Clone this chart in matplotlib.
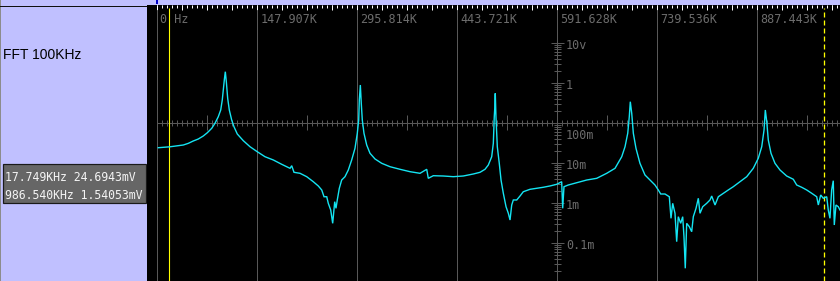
import numpy as np
import matplotlib
matplotlib.use("Agg")
import matplotlib.pyplot as plt
from matplotlib.patches import Rectangle

# ------------------------------------------------------------------ data
title = "FFT 100KHz"
grid_step_khz = 147.907
grid_labels = ["0 Hz", "147.907K", "295.814K", "443.721K",
               "591.628K", "739.536K", "887.443K"]
level_ticks_mv = [10000, 1000, 100, 10, 1, 0.1]
level_labels = ["10v", "1", "100m", "10m", "1m", "0.1m"]
cursor_khz = [17.749, 986.540]
cursor_mv = [24.6943, 1.54053]

freq_khz = [
    1.5, 18.8, 38.5, 45.9, 53.2, 60.6, 68.0, 74.0, 80.5, 85.3,
    90.2, 93.8, 96.1, 97.6, 99.1, 100.6, 102.1, 104.1, 106.5, 110.0,
    113.4, 118.3, 127.2, 137.1, 147.9, 159.3, 171.6, 184.0, 196.3, 198.8,
    202.2, 211.1, 221.0, 230.7, 238.1, 243.2, 246.6,
    250.6, 252.9, 256.5, 259.4, 262.4, 264.3, 266.2, 269.2, 272.7, 277.6,
    282.5, 287.5, 292.4, 295.8, 297.9, 298.8, 300.3, 301.7, 303.2, 305.7,
    309.7, 314.6, 322.0, 331.9, 344.2, 359.0, 373.8, 388.6, 398.5, 400.8,
    408.2, 423.0, 437.8, 452.6, 467.4, 477.3, 484.7, 489.6, 494.6, 497.0,
    498.4,
    499.0, 499.9, 500.9, 502.9, 505.8, 508.4, 511.8, 515.8, 519.2, 521.7,
    524.2, 526.6, 531.6, 536.5, 541.3, 551.2, 561.2, 570.9, 580.8, 590.7,
    598.1, 599.6, 601.5, 607.9, 620.3, 635.1, 649.9, 664.7, 677.0, 686.9,
    691.8, 695.8, 698.1, 699.6, 701.7, 704.1, 708.0, 713.9, 721.3, 728.7,
    736.1, 741.0, 744.6, 750.9,
    757.3, 759.8, 762.3, 765.7, 768.2, 770.6, 774.1, 777.1, 779.0, 780.9,
    783.0, 786.9, 790.4, 792.8, 796.8, 800.2, 802.7, 806.7, 812.6, 817.5,
    820.0, 824.9, 829.8, 837.2, 844.5, 851.9, 861.8, 871.8, 881.5, 888.9,
    894.0, 897.4, 899.3, 901.4, 903.7, 907.7, 913.6, 921.0, 930.9, 940.7,
    945.7, 953.1, 960.5, 967.9, 975.3, 977.7, 981.2, 985.0, 990.1, 992.4,
    994.9, 997.4, 999.8, 1001.3, 1003.8, 1007.2, 1009.7,
]
level_mv = [
    23.7, 25.0, 27.7, 30.5, 34.9, 39.1, 46.5, 56.2, 72.4, 96.6,
    141, 208, 369, 657, 1168, 1884, 1059, 407, 208, 117,
    79.4, 52.2, 35.5, 25.1, 18.8, 14.1, 11.7, 9.12, 7.24, 8.41,
    5.75, 5.43, 4.47, 3.35, 2.62, 2.08, 1.41,
    1.41, 0.966, 0.657, 0.305, 1.06, 0.724, 1.17, 2.29, 3.69, 4.47,
    6.57, 11.7, 22.9, 54.3, 117, 369, 876, 305, 117, 54.3,
    27.7, 17.2, 12.4, 9.66, 7.94, 6.84, 5.96, 5.43, 6.84, 4.07,
    4.73, 4.65, 4.47, 4.65, 5.22, 5.75, 6.84, 8.76, 14.1, 30.5,
    141,
    208, 543, 141, 25.1, 9.66, 3.69, 1.72, 0.794, 0.543, 0.369,
    0.876, 1.17, 1.17, 1.47, 1.88, 2.16, 2.29, 2.43, 2.62, 2.88,
    3.35, 0.724, 2.51, 2.77, 3.16, 3.69, 4.07, 5.43, 7.24, 14.1,
    25.1, 54.3, 141, 335, 172, 54.3, 22.9, 9.66, 4.93, 3.69,
    2.77, 2.08, 1.65, 1.65,
    1.41, 0.407, 0.966, 0.543, 0.106, 0.447, 0.305, 0.447, 0.141, 0.0229,
    0.305, 0.251, 0.188, 0.447, 0.724, 1.29, 0.543, 0.794, 0.966, 1.17,
    1.47, 0.876, 1.41, 1.72, 2.08, 2.51, 3.35, 4.47, 7.24, 12.9,
    25.1, 65.7, 208, 106, 36.9, 17.2, 9.66, 6.57, 4.65, 3.85,
    2.77, 2.43, 2.08, 1.72, 1.41, 0.876, 1.56, 1.29, 1.41, 0.657,
    0.407, 2.08, 3.55, 0.277, 0.876, 0.794, 0.657,
]

# ------------------------------------------------------------------ layout / style
W, H = 840, 281
PANEL_W = 147          # width of the lavender side panel (px)
TOP = 5                # top strip height (px)
ZERO_PX = 157.3        # 0 Hz position (px)
GRID_PX = 100          # px per grid division
DEC_PX = 40            # px per decade
CENTER_Y = 122.7       # px row of the 100 mV line
LAV = "#C0C0FF"
GRID = "#585858"
LABEL = "#6c6c6c"
CYAN = "#14E4F2"
YEL = "#FFFF00"
MONO = "DejaVu Sans Mono"
PX = 72 / 100          # one pixel in points

plt.rcParams["lines.scale_dashes"] = False
khz_per_px = grid_step_khz / GRID_PX

fig = plt.figure(figsize=(W / 100, H / 100), dpi=100)
fig.patch.set_facecolor(LAV)

# overlay for the side panel (pixel coordinates)
ov = fig.add_axes([0, 0, 1, 1])
ov.set_xlim(0, W)
ov.set_ylim(H, 0)
ov.axis("off")
ov.add_patch(Rectangle((0, 0), 1, H, color="#8c8c8c", lw=0))
ov.plot([0, PANEL_W], [TOP + 0.5, TOP + 0.5], color="#101010", lw=PX)
ov.add_patch(Rectangle((ZERO_PX - 1.5, 0), 2, 3.5, color="#0000C8", lw=0))
ov.text(3.3, 59.3, title, fontsize=10, family=["Liberation Sans", "DejaVu Sans"],
        va="baseline", ha="left", color="black")
ov.add_patch(Rectangle((2.5, 163.5), 143.5, 39, facecolor="#666666",
                       edgecolor="#1a1a1a", lw=PX * 1.2))
for i, (f, v) in enumerate(zip(cursor_khz, cursor_mv)):
    ov.text(5, 181 + i * 17.7, f"{f:.3f}KHz {v:.6g}mV", fontsize=8.3,
            family=MONO, va="baseline", ha="left", color="#F4F4F4")

# main scope screen
ax = fig.add_axes([PANEL_W / W, 0, (W - PANEL_W) / W, (H - TOP) / H])
ax.set_facecolor("black")
ax.set_yscale("log")
ax.set_xlim((PANEL_W - ZERO_PX) * khz_per_px, (W - ZERO_PX) * khz_per_px)
ax.set_ylim(100 * 10 ** (-(H - CENTER_Y) / DEC_PX),
            100 * 10 ** ((CENTER_Y - TOP) / DEC_PX))
for s in ax.spines.values():
    s.set_visible(False)
ax.set_xticks([])
ax.set_yticks([])
ax.minorticks_off()

xmax = ax.get_xlim()[1]
ah = H - TOP
xt = ax.get_xaxis_transform()

# top ruler ticks
small = np.arange(0, xmax, grid_step_khz / 20)
big = np.arange(0, xmax, grid_step_khz / 4)
ax.vlines(small, 1 - 3 / ah, 1, transform=xt, color="white", lw=PX, snap=True)
ax.vlines(big, 1 - 5 / ah, 1, transform=xt, color="white", lw=PX, snap=True)

# vertical grid lines
grid_x = [i * grid_step_khz for i in range(len(grid_labels))]
ax.vlines(grid_x, 0, 1 - 5 / ah, transform=xt, color=GRID, lw=PX, snap=True)
for gx, lbl in zip(grid_x, grid_labels):
    ax.annotate(lbl, xy=(gx, 1), xycoords=("data", "axes fraction"),
                xytext=(3, -18.3), textcoords="offset pixels",
                fontsize=8.5, family=MONO, color=LABEL, va="baseline", ha="left")

# horizontal centre axis with ticks
ax.hlines(100, 0, xmax, color=GRID, lw=PX, snap=True)
f3 = 10 ** (3 / DEC_PX)
f7 = 10 ** (7.3 / DEC_PX)
ax.vlines(small, 100 / f3, 100 * f3, color=GRID, lw=PX, snap=True)
ax.vlines(np.arange(0, xmax, grid_step_khz / 2), 100 / f7, 100 * f7,
          color=GRID, lw=PX, snap=True)

# vertical centre axis (log) ticks and labels
yx = 4 * grid_step_khz
minor = [m * 10.0 ** k for k in range(-2, 4) for m in range(2, 10)]
ax.hlines(minor, yx - 3.3 * khz_per_px, yx + 3.3 * khz_per_px,
          color=GRID, lw=PX, snap=True)
ax.hlines(level_ticks_mv, yx - 6.5 * khz_per_px, yx + 6.2 * khz_per_px,
          color=GRID, lw=PX, snap=True)
for v, lbl in zip(level_ticks_mv, level_labels):
    dy = -16.3 if lbl == "100m" else -6.7
    ax.annotate(lbl, xy=(yx, v), xycoords="data", xytext=(8.7, dy),
                textcoords="offset pixels", fontsize=8.5, family=MONO,
                color=LABEL, va="baseline", ha="left")

# cursors
ax.vlines(cursor_khz[0], 0, 1 - 3 / ah, transform=xt, color=YEL, lw=PX * 1.1)
ax.plot([cursor_khz[1]] * 2, [0, 1 - 3 / ah], transform=xt, color=YEL,
        lw=PX * 1.3, linestyle=(0, (5 * PX, 3 * PX)))

# spectrum trace
ax.plot(freq_khz, level_mv, color=CYAN, lw=1.0, solid_joinstyle="miter")

fig.savefig("out.png", dpi=100, facecolor=fig.get_facecolor())
